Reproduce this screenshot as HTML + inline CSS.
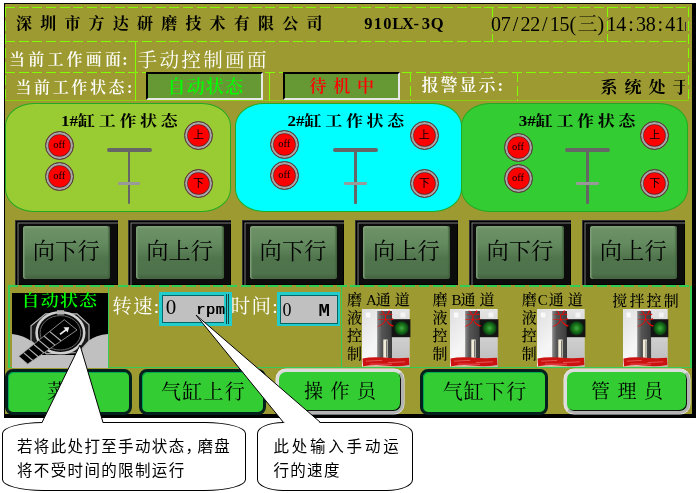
<!DOCTYPE html>
<html lang="zh-CN">
<head>
<meta charset="utf-8">
<title>手动控制画面</title>
<style>
html,body{margin:0;padding:0;background:#fff;}
body{width:699px;height:493px;position:relative;overflow:hidden;font-family:"Liberation Serif","Noto Serif CJK SC",serif;}
.a{position:absolute;white-space:nowrap;line-height:1;}
#root{position:absolute;left:0;top:0;width:699px;height:493px;will-change:transform;}
#scr{left:4px;top:3px;width:692px;height:415px;background:#000;}
#bg{left:5px;top:4px;width:687px;height:410px;background:#9c9a31;}
.dh{height:1px;background:repeating-linear-gradient(90deg,#80ff00 0 10px,transparent 10px 13.7px);}
.dv{width:1px;background:repeating-linear-gradient(180deg,#80ff00 0 10px,transparent 10px 13.7px);}
.sv{width:1px;background:#80ff00;}
.sh{height:1px;background:#80ff00;}
.ser{font-family:"Liberation Serif","Noto Serif CJK SC",serif;}
.mono{font-family:"Liberation Mono","Noto Serif CJK SC",monospace;}
.sans{font-family:"Liberation Sans","Noto Sans CJK SC",sans-serif;}
.w{color:#fff;}
.b{font-weight:bold;}
.c{display:inline-block;text-align:center;}
.stat{box-sizing:border-box;background:#669933;border:2px solid;border-color:#000 #e8e8e8 #e8e8e8 #000;}
.panel{box-sizing:border-box;border:1px solid #2a2;border-radius:29px / 23px;top:103px;height:109px;}
.ptitle{font-weight:700;font-size:17px;top:113.5px;color:#000;transform:scaleY(0.88);transform-origin:0 0;}
.ptitle span{letter-spacing:3.7px;}
.lamp{width:29px;height:29px;border-radius:50%;box-sizing:border-box;background:#ff0000;border:1px solid #444;box-shadow:inset 0 0 0 2.2px #a6a6a6,inset 0 0 0 2.9px #622;color:#000;font-size:11px;text-align:center;line-height:26px;}
.lamp.off{font-size:10.5px;line-height:26px;}
.tb{height:3.7px;border-radius:2px;background:#666;}
.tv{width:2.6px;background:#666;border-radius:1px;}
.ts{height:2.6px;background:#999;border-radius:1.3px;}
.dbtn{box-sizing:border-box;top:220px;width:102.5px;height:64.5px;background:#0c0c0c;box-shadow:inset 1px 1px 0 #333,inset 2.5px 2.5px 0 #000,inset 3.5px 3.5px 0 #7c7c7c,inset -1px -1px 0 #000;}
.dbtn i{position:absolute;left:7.8px;top:5.6px;right:7.3px;bottom:5.7px;border-radius:3px;background:linear-gradient(180deg,#8aa982 0,#6e9268 5%,#648a5f 32%,#5a7f56 48%,#50754d 60%,#4e724b 90%,#42603f 100%);box-shadow:inset 1.5px 0 1px #7c9c75,inset -1.5px 0 1px #41603d;}
.dbtn span{position:absolute;left:0;right:0;top:20px;text-align:center;font-size:22.3px;line-height:24px;color:#000;}
.bbtn{box-sizing:border-box;top:369px;height:45.5px;background:#33cc33;text-align:center;font-size:20px;line-height:40px;color:#000;}
.bd{border:3.5px solid #04201c;border-radius:8px;box-shadow:inset 1px 1px 0 #0a5;}
.bl{border:3px solid #b4b4b4;border-top-color:#dcdcdc;border-left-color:#dcdcdc;border-radius:10px;box-shadow:inset -1px -1px 0 #111,0 0 0 0.5px #eee;height:45px;line-height:40px;font-size:19px;}
.inp{box-sizing:border-box;top:292.5px;height:32.5px;background:#c0c0c0;border:3px solid #2cc;box-shadow:inset 1px 1px 0 #066,inset -1px -1px 0 #066;font-size:20px;line-height:27px;color:#000;white-space:pre;}
.lab{font-size:15px;color:#000;top:293px;font-weight:500;}
.vlab{font-weight:500;font-size:15px;line-height:18px;color:#000;top:309px;width:15px;white-space:normal;text-align:center;}
.call{box-sizing:border-box;border:1px solid #000;border-radius:16.7%;background:#fff;top:422px;height:69px;}
.ctext{font-family:"Liberation Sans","Noto Sans CJK SC",sans-serif;font-size:15.5px;line-height:24.7px;letter-spacing:1.35px;color:#000;white-space:pre;}
.gl{background:#3c5;}
</style>
</head>
<body>
<div id="root">
<div class="a" id="scr"></div><div class="a" id="bg"></div>
<div class="a dh" style="left:5px;top:7px;width:684px"></div>
<div class="a dh" style="left:5px;top:41px;width:684px"></div>
<div class="a dh" style="left:5px;top:72px;width:684px"></div>
<div class="a" style="left:5px;top:100px;width:684px;height:1px;background:#8ad010"></div>
<div class="a dv" style="left:5px;top:7px;height:94px"></div>
<div class="a dv" style="left:688px;top:7px;height:94px"></div>
<div class="a dv" style="left:492px;top:7px;height:35px"></div>
<div class="a dv" style="left:607px;top:7px;height:35px"></div>
<div class="a sv" style="left:135px;top:41px;height:60px"></div>
<div class="a sv" style="left:269px;top:72px;height:29px"></div>
<div class="a dv" style="left:410px;top:72px;height:29px"></div>
<div class="a dv" style="left:517px;top:72px;height:29px"></div>
<div class="a ser" style="left:16px;top:15.8px;font-size:16px;letter-spacing:8.2px;font-weight:700;color:#000">深圳市方达研磨技术有限公司</div>
<div class="a ser b" style="left:363.5px;top:15.5px;font-size:16.5px;color:#000"><span class="c" style="width:9.6px">9</span><span class="c" style="width:9.6px">1</span><span class="c" style="width:9.6px">0</span><span class="c" style="width:9.6px">L</span><span class="c" style="width:9.6px">X</span><span class="c" style="width:9.6px">-</span><span class="c" style="width:9.6px">3</span><span class="c" style="width:9.6px">Q</span></div>
<div class="a ser" style="left:491px;top:14px;font-size:20px;color:#000"><span class="c" style="width:9.8px">0</span><span class="c" style="width:9.8px">7</span><span class="c" style="width:9.8px">/</span><span class="c" style="width:9.8px">2</span><span class="c" style="width:9.8px">2</span><span class="c" style="width:9.8px">/</span><span class="c" style="width:9.8px">1</span><span class="c" style="width:9.8px">5</span><span class="c" style="width:9px;margin-left:-1px">(</span><span style="font-size:20px;font-weight:300">三</span><span class="c" style="width:6px">)</span></div>
<div class="a ser" style="left:606.5px;top:14px;font-size:20px;color:#000;width:80px;overflow:hidden"><span class="c" style="width:9.8px">1</span><span class="c" style="width:9.8px">4</span><span class="c" style="width:9.8px">:</span><span class="c" style="width:9.8px">3</span><span class="c" style="width:9.8px">8</span><span class="c" style="width:9.8px">:</span><span class="c" style="width:9.8px">4</span><span class="c" style="width:9.8px">1</span></div>
<div class="a ser w" style="left:9px;top:52px;font-size:16px;letter-spacing:3.2px;font-weight:600">当前工作画面<span style="margin-left:-2px">:</span></div>
<div class="a ser w" style="left:137.5px;top:51px;font-size:19.6px;letter-spacing:2.3px">手动控制画面</div>
<div class="a ser w" style="left:15.5px;top:79.5px;font-size:16px;letter-spacing:2.6px;font-weight:600">当前工作状态<span style="margin-left:0px">:</span></div>
<div class="a stat" style="left:146px;top:72px;width:117px;height:27.5px"></div>
<div class="a ser" style="left:167.6px;top:78px;font-size:18px;letter-spacing:1.1px;font-weight:600;color:#00ff00">自动状态</div>
<div class="a stat" style="left:283px;top:72px;width:117px;height:27.5px"></div>
<div class="a ser" style="left:309.5px;top:78px;font-size:17px;font-weight:600;letter-spacing:6.8px;color:#ff0000">待机中</div>
<div class="a ser w" style="left:421.5px;top:77px;font-size:17px;letter-spacing:2px;font-weight:600">报警显示:</div>
<div class="a ser" style="left:600.5px;top:78.5px;font-size:17px;letter-spacing:7px;font-weight:700;color:#000;width:84.7px;overflow:hidden">系统处于</div>
<div class="a" style="left:685px;top:22px;width:1px;height:9px;background:#333"></div>
<div class="a panel" style="left:5px;width:226px;background:#99cc33"></div>
<div class="a panel" style="left:235px;width:226.5px;background:#00ffff"></div>
<div class="a panel" style="left:461px;width:227px;background:#33cc33"></div>
<div class="a ptitle" style="left:61px">1#<span>缸工作状态</span></div>
<div class="a ptitle" style="left:287.5px">2#<span>缸工作状态</span></div>
<div class="a ptitle" style="left:518.7px">3#<span>缸工作状态</span></div>
<div class="a lamp off" style="left:44.8px;top:131.1px">off</div>
<div class="a lamp off" style="left:44.8px;top:161.9px">off</div>
<div class="a lamp sans" style="left:183.9px;top:120.5px">上</div>
<div class="a lamp sans" style="left:183.9px;top:168.5px">下</div>
<div class="a tb" style="left:106.5px;top:148px;width:45px"></div>
<div class="a tv" style="left:127.5px;top:150px;height:53.5px"></div>
<div class="a ts" style="left:117.6px;top:182.3px;width:22.5px"></div>
<div class="a lamp off" style="left:269.8px;top:129.5px">off</div>
<div class="a lamp off" style="left:269.8px;top:160.8px">off</div>
<div class="a lamp sans" style="left:409.8px;top:120.5px">上</div>
<div class="a lamp sans" style="left:409.8px;top:168.5px">下</div>
<div class="a tb" style="left:333.2px;top:148px;width:45px"></div>
<div class="a tv" style="left:354.2px;top:150px;height:53.5px"></div>
<div class="a ts" style="left:344.3px;top:182.3px;width:22.5px"></div>
<div class="a lamp off" style="left:503.5px;top:132.5px">off</div>
<div class="a lamp off" style="left:503.5px;top:163.5px">off</div>
<div class="a lamp sans" style="left:640.3px;top:120.5px">上</div>
<div class="a lamp sans" style="left:640.3px;top:168.5px">下</div>
<div class="a tb" style="left:565.0px;top:148px;width:45px"></div>
<div class="a tv" style="left:586.0px;top:150px;height:53.5px"></div>
<div class="a ts" style="left:576.1px;top:182.3px;width:22.5px"></div>
<div class="a dbtn" style="left:15.0px"><i></i><span>向下行</span></div>
<div class="a dbtn" style="left:128.4px"><i></i><span>向上行</span></div>
<div class="a dbtn" style="left:241.8px"><i></i><span>向下行</span></div>
<div class="a dbtn" style="left:355.20000000000005px"><i></i><span>向上行</span></div>
<div class="a dbtn" style="left:468.6px"><i></i><span>向下行</span></div>
<div class="a dbtn" style="left:582.0px"><i></i><span>向上行</span></div>
<div class="a" style="left:8px;top:285px;width:683px;height:2px;background:repeating-linear-gradient(90deg,#3c5 0 10px,#9c9a31 10px 13.7px)"></div>
<div class="a gl" style="left:8px;top:366.5px;width:683px;height:1.5px"></div>
<div class="a gl" style="left:8px;top:286px;width:1.5px;height:82px"></div>
<div class="a gl" style="left:108px;top:286px;width:1px;height:82px"></div>
<div class="a gl" style="left:341px;top:286px;width:1px;height:82px"></div>
<div class="a gl" style="left:690px;top:286px;width:1.5px;height:82px"></div>
<svg class="a" style="left:11.5px;top:292.8px" width="96" height="75" viewBox="0 0 96 75">
<rect width="96" height="75" fill="#000"/>
<path d="M0 41 Q12 42 22 50 L30 62 L66 62 L76 48 Q84 42 96 41 L96 75 L0 75Z" fill="#c0c0c0"/>
<path d="M33.5 20.8 L65 20.8 L77 31.8 L77 48 L66.7 59.5 L34.4 60.8 L19 48 L19 32.7Z" fill="#1a1a1a" stroke="#b8b8b8" stroke-width="1.2"/>
<ellipse cx="48.4" cy="39.8" rx="23.8" ry="20.5" fill="#0a0a0a" stroke="#cfcfcf" stroke-width="2.6"/>
<ellipse cx="48.4" cy="39.8" rx="20.3" ry="17.2" fill="#000" stroke="#666" stroke-width="1"/>
<rect x="45" y="17.2" width="7.2" height="4.4" fill="#b4b4b4"/>
<path d="M6.8 63.3 L15.7 71 L65 37 L52.3 26.7Z" fill="#000" stroke="#aaa" stroke-width="0.8"/>
<path d="M11.5 59.6 L20.8 67.5 M16.6 55.6 L26.3 63.7 M21.8 51.5 L31.9 59.8 M27 47.4 L37.4 56 M32.2 43.2 L43 52.1 M37.8 38.6 L49 47.8" stroke="#b0b0b0" stroke-width="1.2"/>
<path d="M48 41.4 L55 36" stroke="#eee" stroke-width="1.8"/>
<path d="M51.5 34.2 L57.2 34.2 L55.6 39.4Z" fill="#eee"/>
</svg>
<div class="a ser" style="left:21.5px;top:292.5px;font-size:18px;letter-spacing:1.2px;transform:scaleY(0.86);transform-origin:0 0;font-weight:600;color:#00ff00">自动状态</div>
<div class="a ser w" style="left:112.3px;top:297.3px;font-size:19.5px;letter-spacing:1.2px">转速:</div>
<div class="a inp" style="left:159px;top:292px;width:72.5px;height:33.5px"></div>
<div class="a" style="left:224px;top:294px;width:5.5px;height:29.5px;background:repeating-linear-gradient(90deg,#2cc 0 1.6px,#144 1.6px 2.6px)"></div>
<div class="a ser" style="left:165.8px;top:297.3px;font-size:21px;color:#000">0</div>
<div class="a mono" style="left:196px;top:302.8px;font-size:15.5px;letter-spacing:0.5px;color:#000;text-shadow:0.5px 0 0 #000">rpm</div>
<div class="a ser w" style="left:230.8px;top:297.3px;font-size:19.5px;letter-spacing:1.2px">时间:</div>
<div class="a inp" style="left:276.5px;top:292px;width:63.5px;height:33.5px;border-right-width:2px;border-bottom-width:2.5px"></div>
<div class="a ser" style="left:282.5px;top:300.5px;font-size:18px;color:#000">0</div>
<div class="a mono b" style="left:318.5px;top:302px;font-size:19px;color:#000">M</div>
<div class="a lab" style="left:347px;letter-spacing:4px">磨A<span style="margin-left:-5px">通</span>道</div>
<div class="a lab" style="left:432.4px;letter-spacing:4px">磨B<span style="margin-left:-5px">通</span>道</div>
<div class="a lab" style="left:521.7px;letter-spacing:1px">磨C通<span style="margin-left:3px">道</span></div>
<div class="a lab" style="left:612.2px;top:293.5px;letter-spacing:2.2px">搅拌控制</div>
<div class="a vlab" style="left:347px">液控制</div>
<div class="a vlab" style="left:432.4px">液控制</div>
<div class="a vlab" style="left:521.7px">液控制</div>
<svg width="0" height="0" style="position:absolute"><defs>
<linearGradient id="pl" x1="0" x2="1" y1="0" y2="1"><stop offset="0" stop-color="#dedede"/><stop offset="0.45" stop-color="#f6f6f6"/><stop offset="1" stop-color="#e6e6e6"/></linearGradient>
<linearGradient id="sl" x1="0" x2="1" y1="0" y2="0"><stop offset="0" stop-color="#8a8a8a"/><stop offset="0.3" stop-color="#555"/><stop offset="1" stop-color="#3c3c3c"/></linearGradient>
<linearGradient id="pr" x1="0" x2="0" y1="0" y2="1"><stop offset="0" stop-color="#e4e4e4"/><stop offset="0.5" stop-color="#cfcfcf"/><stop offset="1" stop-color="#bcbcbc"/></linearGradient>
<radialGradient id="led"><stop offset="0" stop-color="#46a846"/><stop offset="0.45" stop-color="#1c7f1c"/><stop offset="1" stop-color="#083a10"/></radialGradient>
<g id="sw">
<rect width="47.4" height="57.5" fill="url(#pl)"/>
<rect x="30" y="0" width="17.4" height="57.5" fill="url(#pr)"/>
<rect x="15.2" y="2" width="14.8" height="47" fill="url(#sl)"/>
<rect x="21.3" y="30.5" width="4.3" height="18.5" fill="#f0ecd8"/><rect x="24" y="31.5" width="1" height="17" fill="#777"/>
<rect x="3.8" y="3.5" width="4.6" height="5" rx="1" fill="#fafafa"/>
<rect x="38.4" y="3.5" width="5" height="5" rx="1" fill="#f4f4f4"/>
<rect x="29.6" y="10.2" width="18.8" height="18" fill="#141414"/>
<circle cx="39.6" cy="19.2" r="7" fill="url(#led)"/>
<path d="M0.5 49.5 Q10 47.5 22 48.6 T47 48.8 L47.4 56 Q36 58 24 56.8 T1 57.3Z" fill="#cc1111"/>
<path d="M4 52.2 L20 51.4 M26 53.6 L43 52.8 M8 55 L30 55.3" stroke="#e85a5a" stroke-width="0.9" fill="none"/>
</g></defs></svg>
<svg class="a" style="left:362.3px;top:308.7px;overflow:visible" width="47.4" height="57.5"><g transform="scale(1.0 1)"><use href="#sw"/></g></svg>
<div class="a ser" style="left:377.0px;top:310.5px;font-size:17.5px;font-weight:300;color:#ff0000">关</div>
<svg class="a" style="left:449.6px;top:308.7px;overflow:visible" width="47.4" height="57.5"><g transform="scale(1.0 1)"><use href="#sw"/></g></svg>
<div class="a ser" style="left:464.3px;top:310.5px;font-size:17.5px;font-weight:300;color:#ff0000">关</div>
<svg class="a" style="left:537.2px;top:308.7px;overflow:visible" width="47.4" height="57.5"><g transform="scale(1.0 1)"><use href="#sw"/></g></svg>
<div class="a ser" style="left:551.9000000000001px;top:310.5px;font-size:17.5px;font-weight:300;color:#ff0000">关</div>
<svg class="a" style="left:623.2px;top:308.7px;overflow:visible" width="44.4" height="57.5"><g transform="scale(0.9367088607594937 1)"><use href="#sw"/></g></svg>
<div class="a ser" style="left:636.9379746835443px;top:310.5px;font-size:17.5px;font-weight:300;color:#ff0000">关</div>
<div class="a bbtn bd ser" style="left:5.4px;width:126.2px;letter-spacing:7px;text-indent:11px">菜单</div>
<div class="a bbtn bd ser" style="left:138.5px;width:127px;text-indent:3px;letter-spacing:1.2px">气缸上行</div>
<div class="a bbtn bl ser" style="left:276.4px;width:127.6px;letter-spacing:7.5px;text-indent:7px">操作员</div>
<div class="a bbtn bd ser" style="left:420.3px;width:127.5px;text-indent:2px;letter-spacing:1.2px">气缸下行</div>
<div class="a bbtn bl ser" style="left:563.9px;width:126.4px;letter-spacing:7.5px;text-indent:7.5px">管理员</div>
<div class="a call" style="left:1.5px;width:244.3px"></div>
<div class="a call" style="left:257px;width:156.2px"></div>
<svg class="a" style="left:0;top:0" width="699" height="493" viewBox="0 0 699 493">
<path d="M42 422.5 L80 345 L103 422.5" fill="#fff" stroke="#000" stroke-width="1"/>
<path d="M42.6 423.2 L102.4 423.2" stroke="#fff" stroke-width="2.4"/>
<path d="M283.5 422.5 L196 315 L320.5 422.5" fill="#fff" stroke="#000" stroke-width="1"/>
<path d="M284.5 423.2 L319 423.2" stroke="#fff" stroke-width="2.4"/>
</svg>
<div class="a ctext" style="left:17px;top:434.5px">若将此处打至手动状态<span class="c" style="width:12px;text-align:left;letter-spacing:0">，</span>磨盘
将不受时间的限制运行</div>
<div class="a ctext" style="left:273.4px;top:434.5px"><span style="letter-spacing:2.8px">此处输入手动运</span>
行的速度</div>
</div>
</body>
</html>
